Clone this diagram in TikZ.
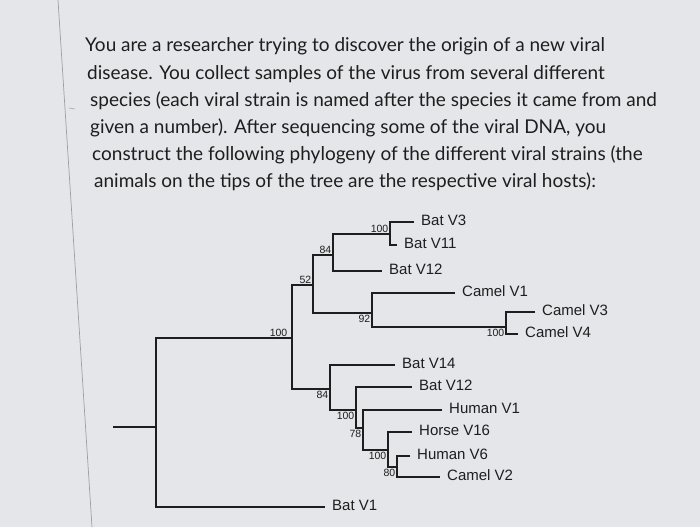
\documentclass[tikz,border=0pt]{standalone}
\usepackage{fontspec}
\setmainfont{Lato}
\newfontfamily\treefont{Liberation Sans}
\usepackage{xcolor}
\usetikzlibrary{positioning}
\definecolor{paper}{HTML}{E4E6E9}
\definecolor{ink}{HTML}{1E1E1E}
\tikzstyle{question} = [anchor=base west, inner sep=0pt, font=\fontsize{19}{23}\selectfont, text=ink]
\tikzstyle{branch} = [draw=ink, line width=1.8pt]
\tikzstyle{tip} = [anchor=west, inner sep=0pt, xshift=7pt, yshift=2pt, font=\treefont\fontsize{15}{17}\selectfont, text=ink]
\tikzstyle{support} = [inner sep=1.5pt, font=\treefont\fontsize{10.5}{12}\selectfont, text=ink]

\begin{document}
\begin{tikzpicture}[x=1pt, y=-1pt]
\fill[paper] (0,0) rectangle (700,527);
\useasboundingbox (0,0) rectangle (700,527);
% page edge
\draw[gray!75, line width=0.7pt] (58,0) -- (92,527);
\draw[gray!60, line width=0.8pt] (69,108) -- (75,109);

% Question text
\node[question] (q1) at (85,52) {You are a researcher trying to discover the origin of a new viral};
\node[question] (q2) at (87,79) {disease. You collect samples of the virus from several different};
\node[question] (q3) at (90,106) {species (each viral strain is named after the species it came from and};
\node[question] (q4) at (90,133) {given a number). After sequencing some of the viral DNA, you};
\node[question] (q5) at (92,160) {construct the following phylogeny of the different viral strains (the};
\node[question] (q6) at (94,187) {animals on the tips of the tree are the respective viral hosts):};

% Internal nodes
\coordinate (stub) at (113,427);
\coordinate (root) at (156,427);
\coordinate (n100a) at (292,338);
\coordinate (n52) at (313,285);
\coordinate (n84a) at (333,255);
\coordinate (n100b) at (390,234);
\coordinate (n92) at (372,313);
\coordinate (n100c) at (506,327);
\coordinate (n84b) at (330,389);
\coordinate (n100d) at (356,410);
\coordinate (n78) at (363,428);
\coordinate (n100e) at (388,450);
\coordinate (n80) at (397,467);

% Tips
\coordinate (bat3) at (414,222);
\coordinate (bat11) at (397,245);
\coordinate (bat12a) at (382,271);
\coordinate (camel1) at (455,293);
\coordinate (camel3) at (535,312);
\coordinate (camel4) at (518,334);
\coordinate (bat14) at (395,365);
\coordinate (bat12b) at (412,387);
\coordinate (human1) at (442,410);
\coordinate (horse16) at (412,432);
\coordinate (human6) at (410,456);
\coordinate (camel2) at (440,477);
\coordinate (bat1) at (325,507);

% Tip labels
\node[tip] (lbat3) at (bat3) {Bat V3};
\node[tip] (lbat11) at (bat11) {Bat V11};
\node[tip] (lbat12a) at (bat12a) {Bat V12};
\node[tip] (lcamel1) at (camel1) {Camel V1};
\node[tip] (lcamel3) at (camel3) {Camel V3};
\node[tip] (lcamel4) at (camel4) {Camel V4};
\node[tip] (lbat14) at (bat14) {Bat V14};
\node[tip] (lbat12b) at (bat12b) {Bat V12};
\node[tip] (lhuman1) at (human1) {Human V1};
\node[tip] (lhorse16) at (horse16) {Horse V16};
\node[tip] (lhuman6) at (human6) {Human V6};
\node[tip] (lcamel2) at (camel2) {Camel V2};
\node[tip] (lbat1) at (bat1) {Bat V1};

% Branches
\draw[branch] (stub) -- (root);
\draw[branch] (n100a) -| (root) |- (bat1);
\draw[branch] (n52) -| (n100a) |- (n84b);
\draw[branch] (n84a) -| (n52) |- (n92);
\draw[branch] (n100b) -| (n84a) |- (bat12a);
\draw[branch] (bat3) -| (n100b) |- (bat11);
\draw[branch] (camel1) -| (n92) |- (n100c);
\draw[branch] (camel3) -| (n100c) |- (camel4);
\draw[branch] (bat14) -| (n84b) |- (n100d);
\draw[branch] (bat12b) -| (n100d) |- (n78);
\draw[branch] (human1) -| (n78) |- (n100e);
\draw[branch] (horse16) -| (n100e) |- (n80);
\draw[branch] (human6) -| (n80) |- (camel2);

% Bootstrap values
\node[support, anchor=south east, xshift=-3pt] (s100a) at (n100a) {100};
\node[support, anchor=south east] (s52) at (n52) {52};
\node[support, anchor=south east] (s84a) at (n84a) {84};
\node[support, anchor=south east] (s100b) at (n100b) {100};
\node[support, anchor=north east] (s92) at (n92) {92};
\node[support, anchor=north east] (s100c) at (n100c) {100};
\node[support, anchor=north east] (s84b) at (n84b) {84};
\node[support, anchor=north east] (s100d) at (n100d) {100};
\node[support, anchor=north east] (s78) at (n78) {78};
\node[support, anchor=north east] (s100e) at (n100e) {100};
\node[support, anchor=north east] (s80) at (n80) {80};
\end{tikzpicture}
\end{document}
